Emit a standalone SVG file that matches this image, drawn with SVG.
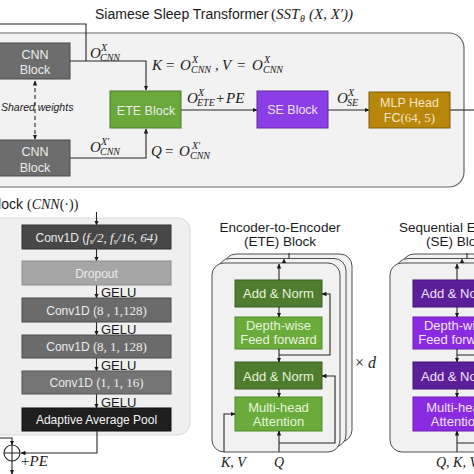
<svg xmlns="http://www.w3.org/2000/svg" width="474" height="474" viewBox="0 0 474 474">
<defs>
<marker id="a" viewBox="0 0 10 10" refX="9" refY="5" markerWidth="5" markerHeight="5" markerUnits="userSpaceOnUse" orient="auto-start-reverse"><path d="M0,0.5 L10,5 L0,9.5z" fill="#1a1a1a"/></marker>
<style>
text{font-family:"Liberation Sans",Arial,sans-serif;fill:#1a1a1a}
.m{font-family:"Liberation Serif","Times New Roman",serif;font-style:italic}
.u{font-style:normal}
.mm{font-family:"Liberation Serif","Times New Roman",serif;font-style:italic;font-size:15px}
.s{font-size:10px}
.ln{fill:none;stroke:#262626;stroke-width:1.1}
.ar{marker-end:url(#a)}
.bt{font-size:12.5px;fill:#ececec;text-anchor:middle}
.ct{font-size:12px;fill:#ebebeb;text-anchor:middle}
.et{font-size:13px;fill:#e8f4dc;text-anchor:middle}
.st{font-size:13px;fill:#f0e4fc;text-anchor:middle}
.gl{font-size:13px}
.ti{font-size:13.5px;text-anchor:middle}
.card{fill:#f1f1f1;stroke:#4f4f4f;stroke-width:1}
.an{fill:#4e7d2f;stroke:#3b6122}
.gn{fill:#6aab3c;stroke:#4f8a2a}
.pan{fill:#5c1f9a;stroke:#43137a}
.ppu{fill:#8a2be2;stroke:#6a1fb0}
.tri{fill:#1a1a1a}
</style>
</defs>
<rect x="0" y="0" width="474" height="474" fill="#ffffff"/>

<!-- Top: Siamese Sleep Transformer -->
<text x="95" y="19" font-size="14">Siamese Sleep Transformer</text>
<text class="mm"><tspan x="271" y="19" class="u">(</tspan><tspan x="276" y="19">SST</tspan><tspan class="s" x="300" y="22">θ</tspan><tspan x="309" y="19">(X, X′))</tspan></text>
<rect id="sst-frame" x="-20" y="33" width="484" height="154" rx="15" fill="#f2f2f2" stroke="#666" stroke-width="1.2"/>

<g id="connectors">
<path class="ln" d="M0,24 H86 V61"/>
<path class="ln ar" d="M70,61 H146 V90"/>
<path class="ln ar" d="M70,158 H146 V129"/>
<path class="ln ar" d="M181,110 H257"/>
<path class="ln ar" d="M328,110 H369"/>
<path class="ln" d="M450,110 H474"/>
<path class="ln" d="M35,81 V139" stroke-dasharray="4,3" marker-start="url(#a)" marker-end="url(#a)"/>
</g>

<g id="cnn-top">
<rect x="-10" y="43" width="80" height="36" fill="#6d6d6d" stroke="#4a4a4a"/>
<text class="bt" x="35" y="59">CNN</text>
<text class="bt" x="35" y="74">Block</text>
</g>
<g id="cnn-bottom">
<rect x="-10" y="140" width="80" height="36" fill="#6d6d6d" stroke="#4a4a4a"/>
<text class="bt" x="35" y="156">CNN</text>
<text class="bt" x="35" y="172">Block</text>
</g>
<text x="1" y="111" font-size="10.5" font-style="italic">Shared weights</text>

<g id="ete-block">
<rect x="110" y="91" width="71" height="37" fill="#6aa83c" stroke="#4c7a2a"/>
<text class="bt" x="146" y="115" fill="#e6f2d6">ETE Block</text>
</g>
<g id="se-block">
<rect x="257" y="91" width="71" height="37" fill="#8b3de6" stroke="#5e2a9c"/>
<text class="bt" x="292.5" y="114" style="fill:#efe3fb">SE Block</text>
</g>
<g id="mlp-head">
<rect x="369" y="92" width="81" height="36" fill="#b8860b" stroke="#7d5c08"/>
<text class="bt" x="409.5" y="107" style="fill:#f6e8c4">MLP Head</text>
<text class="bt" x="409.5" y="122" style="fill:#f6e8c4">FC<tspan class="m u" font-size="13">(64, 5)</tspan></text>
</g>

<!-- math labels -->
<text class="mm"><tspan x="90" y="58">O</tspan><tspan class="s" x="101" y="51">X</tspan><tspan class="s" x="100" y="61">CNN</tspan></text>
<text class="mm"><tspan x="152" y="70">K</tspan><tspan class="u" x="166" y="70">=</tspan><tspan x="180" y="70">O</tspan><tspan class="s" x="192" y="63">X</tspan><tspan class="s" x="191" y="73">CNN</tspan><tspan x="215" y="70">,</tspan><tspan x="222" y="70">V</tspan><tspan class="u" x="237" y="70">=</tspan><tspan x="252" y="70">O</tspan><tspan class="s" x="264" y="63">X</tspan><tspan class="s" x="263" y="73">CNN</tspan></text>
<text class="mm"><tspan x="90" y="152">O</tspan><tspan class="s" x="101" y="145">X′</tspan><tspan class="s" x="100" y="155">CNN</tspan></text>
<text class="mm"><tspan x="151" y="156">Q</tspan><tspan class="u" x="165" y="156">=</tspan><tspan x="179" y="156">O</tspan><tspan class="s" x="192" y="149">X′</tspan><tspan class="s" x="190" y="159">CNN</tspan></text>
<text class="mm"><tspan x="187" y="103">O</tspan><tspan class="s" x="198" y="96">X</tspan><tspan class="s" x="197" y="106">ETE</tspan><tspan class="u" x="216" y="103">+</tspan><tspan x="226" y="103">PE</tspan></text>
<text class="mm"><tspan x="337" y="103">O</tspan><tspan class="s" x="348" y="96">X</tspan><tspan class="s" x="347" y="106">SE</tspan></text>

<!-- CNN block detail -->
<text x="23" y="209" font-size="14" text-anchor="end">Block</text>
<text class="m" x="27" y="209" font-size="14"><tspan class="u">(</tspan>CNN<tspan class="u">(·))</tspan></text>
<rect id="cnn-frame" x="-20" y="218" width="210" height="217" rx="12" fill="#efefef" stroke="#d9d9d9"/>
<g id="cnn-detail-connectors">
<path class="ln ar" d="M96.5,212 V225"/>
<path class="ln ar" d="M96.5,249 V261"/>
<path class="ln ar" d="M96.5,285 V298"/>
<path class="ln ar" d="M96.5,322 V335"/>
<path class="ln ar" d="M96.5,358 V371"/>
<path class="ln ar" d="M96.5,394 V408"/>
<path class="ln ar" d="M97,431 V453 H21"/>
<path class="ln ar" d="M0,438 H12 V445"/>
<path class="ln ar" d="M12,461 V474"/>
</g>
<g id="conv1">
<rect x="22" y="225" width="149" height="24" fill="#474747" stroke="#333"/>
<text class="ct" x="96.5" y="242">Conv1D (<tspan class="m" font-size="13">f</tspan><tspan class="m" font-size="9" dy="2">s</tspan><tspan class="m" font-size="13" dy="-2">/2,  f</tspan><tspan class="m" font-size="9" dy="2">s</tspan><tspan class="m" font-size="13" dy="-2">/16, 64)</tspan></text>
</g>
<g id="dropout">
<rect x="22" y="261" width="149" height="24" fill="#a6a6a6" stroke="#8c8c8c"/>
<text class="ct" x="96.5" y="278">Dropout</text>
</g>
<g id="conv2">
<rect x="22" y="298" width="149" height="24" fill="#6b6b6b" stroke="#4d4d4d"/>
<text class="ct" x="96.5" y="315">Conv1D (<tspan class="m u" font-size="13">8 , 1,128)</tspan></text>
</g>
<g id="conv3">
<rect x="22" y="335" width="149" height="23" fill="#6b6b6b" stroke="#4d4d4d"/>
<text class="ct" x="96.5" y="351">Conv1D (<tspan class="m u" font-size="13">8, 1, 128)</tspan></text>
</g>
<g id="conv4">
<rect x="22" y="371" width="149" height="23" fill="#747474" stroke="#555"/>
<text class="ct" x="96.5" y="387">Conv1D (<tspan class="m u" font-size="13">1, 1, 16)</tspan></text>
</g>
<g id="pool">
<rect x="22" y="408" width="149" height="23" fill="#1f1f1f" stroke="#111"/>
<text class="ct" x="96.5" y="424" style="fill:#f4f4f4">Adaptive Average Pool</text>
</g>
<text class="gl" x="101" y="297">GELU</text>
<text class="gl" x="101" y="334">GELU</text>
<text class="gl" x="101" y="370">GELU</text>
<text class="gl" x="101" y="407">GELU</text>
<g id="pe-sum">
<circle cx="12" cy="453" r="8" fill="none" stroke="#262626" stroke-width="1.1"/>
<path class="ln" d="M4,453 H20 M12,445 V461"/>
</g>
<text class="mm" x="21" y="466" font-size="14"><tspan class="u">+</tspan>PE</text>

<!-- ETE detail -->
<text class="ti" x="280" y="232">Encoder-to-Encoder</text>
<text class="ti" x="280" y="246">(ETE) Block</text>
<g id="ete-detail">
<rect class="card" x="224" y="254" width="128" height="188" rx="12"/>
<rect class="card" x="218" y="258.5" width="128" height="188.5" rx="12"/>
<rect class="card" x="212" y="263" width="128" height="189" rx="12"/>
<g id="ete-addnorm2"><rect class="an" x="235" y="280" width="87" height="27"/><text class="et" x="278.5" y="298">Add &amp; Norm</text></g>
<g id="ete-ff"><rect class="gn" x="235" y="317" width="87" height="32"/><text class="et" x="278.5" y="330">Depth-wise</text><text class="et" x="278.5" y="344">Feed forward</text></g>
<g id="ete-addnorm1"><rect class="an" x="235" y="362" width="87" height="27"/><text class="et" x="278.5" y="381">Add &amp; Norm</text></g>
<g id="ete-mha"><rect class="gn" x="235" y="397" width="87" height="34"/><text class="et" x="278.5" y="412">Multi-head</text><text class="et" x="278.5" y="426">Attention</text></g>
<g id="ete-connectors">
<path class="ln ar" d="M279,280 V264"/>
<path class="ln" d="M284,263 V261"/>
<polygon class="tri" points="284,258.5 281.8,263 286.2,263"/>
<path class="ln" d="M289,258.5 V253"/>
<path class="ln ar" d="M279,307 V317"/>
<path class="ln ar" d="M279,349 V362"/>
<path class="ln ar" d="M279,389 V397"/>
<path class="ln ar" d="M279,452 V431"/>
<path class="ln ar" d="M224,452 V414 H235"/>
<path class="ln ar" d="M279,443 H335 V376 H322"/>
<path class="ln ar" d="M279,355 H330 V294 H322"/>
</g>
</g>
<text class="m" x="221" y="467" font-size="14">K, V</text>
<text class="m" x="279" y="467" font-size="14" text-anchor="middle">Q</text>
<text class="m" x="355" y="368" font-size="16"><tspan class="u">×</tspan> d</text>

<!-- SE detail -->
<text class="ti" x="458" y="232">Sequential Encoder</text>
<text class="ti" x="458" y="246">(SE) Block</text>
<g id="se-detail" transform="translate(178,0)">
<rect class="card" x="224" y="254" width="128" height="188" rx="12"/>
<rect class="card" x="218" y="258.5" width="128" height="188.5" rx="12"/>
<rect class="card" x="212" y="263" width="128" height="189" rx="12"/>
<g id="se-addnorm2"><rect class="pan" x="235" y="280" width="87" height="27"/><text class="st" x="278.5" y="298">Add &amp; Norm</text></g>
<g id="se-ff"><rect class="ppu" x="235" y="317" width="87" height="32"/><text class="st" x="278.5" y="330">Depth-wise</text><text class="st" x="278.5" y="344">Feed forward</text></g>
<g id="se-addnorm1"><rect class="pan" x="235" y="362" width="87" height="27"/><text class="st" x="278.5" y="381">Add &amp; Norm</text></g>
<g id="se-mha"><rect class="ppu" x="235" y="397" width="87" height="34"/><text class="st" x="278.5" y="412">Multi-head</text><text class="st" x="278.5" y="426">Attention</text></g>
<g id="se-connectors">
<path class="ln ar" d="M279,280 V264"/>
<path class="ln" d="M284,263 V261"/>
<polygon class="tri" points="284,258.5 281.8,263 286.2,263"/>
<path class="ln" d="M289,258.5 V253"/>
<path class="ln ar" d="M279,307 V317"/>
<path class="ln ar" d="M279,349 V362"/>
<path class="ln ar" d="M279,389 V397"/>
<path class="ln ar" d="M279,452 V431"/>
<path class="ln ar" d="M279,443 H335 V376 H322"/>
<path class="ln ar" d="M279,355 H330 V294 H322"/>
</g>
</g>
<text class="m" x="457" y="467" font-size="14" text-anchor="middle">Q, K, V</text>
</svg>
